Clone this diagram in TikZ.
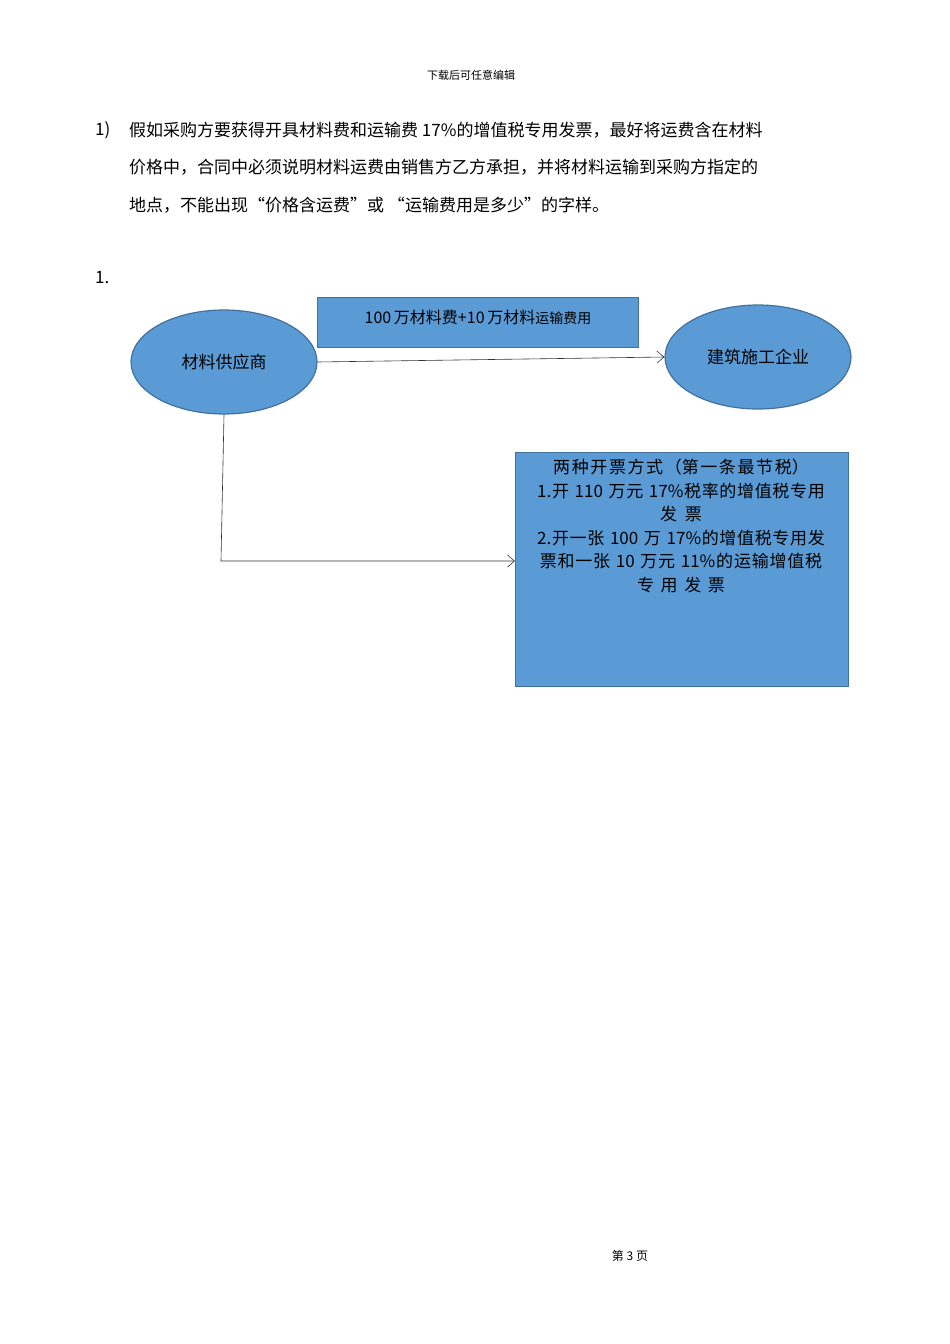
\documentclass[tikz,border=0pt]{standalone}
\usepackage{fontspec}
\setmainfont{Noto Sans CJK SC}
\XeTeXlinebreaklocale "zh"
\XeTeXlinebreakskip=0pt plus 2pt
\usetikzlibrary{shapes.geometric,arrows.meta}
\definecolor{boxblue}{RGB}{91,155,213}
\definecolor{boxedge}{RGB}{65,113,156}
\tikzset{
  shape fill/.style={fill=boxblue, draw=boxedge, line width=1.2pt},
  ell/.style={shape fill, ellipse, minimum width=186pt, minimum height=104pt, font=\fontsize{17}{20}\selectfont},
  para/.style={anchor=west, inner sep=0pt, font=\fontsize{17}{20}\selectfont},
  conn/.style={draw=black!80, line width=0.6pt},
  arr/.style={conn, -{Straight Barb[length=7pt,width=12pt]}}
}
\begin{document}
\begin{tikzpicture}[x=1pt,y=-1pt]
\useasboundingbox (0,0) rectangle (950,1344);
\node[font=\fontsize{11}{13}\selectfont] (hdr) at (471,75) {下载后可任意编辑};
\node[para] (n1) at (95,130) {1)};
\node[para, text width=719pt, align=justify] (l1) at (129,130) {\parfillskip=0pt 假如采购方要获得开具材料费和运输费 17\%的增值税专用发票，最好将运费含在材料};
\node[para, text width=719pt, align=justify] (l2) at (129,167) {\parfillskip=0pt 价格中，合同中必须说明材料运费由销售方乙方承担，并将材料运输到采购方指定的};
\node[para] (l3) at (129,205) {地点，不能出现“价格含运费”或 “运输费用是多少”的字样。};
\node[para] (n2) at (95,278) {1.};
\node[ell] (sup) at (224,362) {材料供应商};
\node[ell] (bld) at (758,357) {建筑施工企业};
\node[shape fill, minimum width=321pt, minimum height=50pt, anchor=north west, inner sep=0pt] (top) at (317,297) {};
\node[font=\fontsize{16}{19}\selectfont] (toplbl) at (478,317) {100\,万材料费+10\,万材料{\fontsize{14}{16}\selectfont 运输费用}};
\node[shape fill, minimum width=333pt, minimum height=234pt, anchor=north west, inner sep=0pt] (big) at (515,452) {};
\node[anchor=north, text width=310pt, align=center, font=\fontsize{17}{23.5}\selectfont, inner sep=0pt] (biglbl) at (681,459) {两种开票方式（第一条最节税）\\1.开 110 万元 17\%税率的增值税专用\\发票\\2.开一张 100 万 17\%的增值税专用发\\票和一张 10 万元 11\%的运输增值税\\专用发票};
\draw[arr] (sup.east) -- (bld.west);
\coordinate (c1) at (221,561);
\draw[arr] (sup.south) -- (c1) -- (big.west |- c1);
\node[font=\fontsize{12}{14}\selectfont] (ftr) at (630,1256) {第 3 页};
\end{tikzpicture}
\end{document}
